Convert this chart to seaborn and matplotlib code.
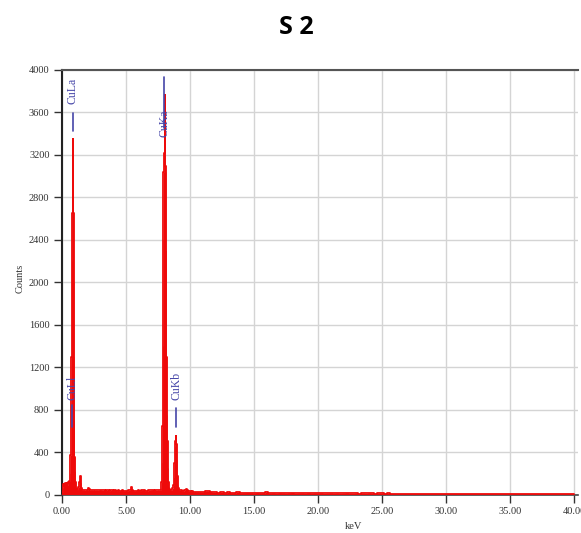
import numpy as np
import pandas as pd
import seaborn as sns
import matplotlib
matplotlib.use("Agg")
import matplotlib.pyplot as plt
from matplotlib.ticker import FormatStrFormatter

# --- EDS spectrum (energy in keV, counts per channel) ---
low_kev = [0.00, 0.04, 0.08, 0.12, 0.16, 0.20, 0.24, 0.28, 0.32, 0.36,
           0.40, 0.44, 0.48, 0.52, 0.56, 0.60, 0.64, 0.68, 0.70, 0.72,
           0.74, 0.76, 0.78, 0.80, 0.82, 0.84, 0.86, 0.88, 0.90, 0.92,
           0.94, 0.96, 0.99, 1.02, 1.06, 1.10, 1.15, 1.20, 1.25, 1.30,
           1.36, 1.40, 1.44, 1.48, 1.52, 1.56, 1.60, 1.70, 1.80, 1.90,
           2.00, 2.05, 2.10, 2.20]
low_counts = [0, 25, 60, 95, 80, 100, 90, 105, 85, 95,
              110, 90, 100, 120, 105, 130, 200, 370, 380, 640,
              1300, 2200, 2650, 2650, 2650, 2650, 3350, 2650, 2650, 2000,
              1300, 700, 350, 220, 120, 70, 55, 45, 50, 70,
              120, 165, 170, 110, 60, 45, 42, 44, 38, 46,
              44, 58, 50, 40]

# background between the Cu L and Cu K lines, 0.1 keV channels
mid_kev = np.linspace(2.3, 7.6, 54)
mid_counts = [42, 40, 44, 39, 41, 38, 42, 46, 40, 38,
              41, 37, 39, 42, 36, 38, 40, 37, 45, 39,
              36, 38, 35, 37, 40, 36, 34, 37, 35, 38,
              42, 66, 44, 36, 34, 37, 35, 38, 36, 40,
              46, 38, 35, 37, 36, 40, 38, 45, 39, 37,
              40, 38, 42, 40]

cuk_kev = [7.70, 7.75, 7.79, 7.82, 7.85, 7.88, 7.91, 7.94, 7.97, 8.00,
           8.02, 8.04, 8.06, 8.08, 8.11, 8.14, 8.17, 8.20, 8.23, 8.27,
           8.31, 8.36, 8.42, 8.50, 8.60, 8.66, 8.70, 8.74, 8.78, 8.82,
           8.85, 8.88, 8.90, 8.92, 8.95, 8.98, 9.02, 9.06, 9.10, 9.15]
cuk_counts = [44, 60, 120, 300, 650, 1400, 2400, 3040, 3100, 3220,
              3220, 3760, 3200, 3100, 3040, 2300, 1300, 750, 500, 250,
              120, 70, 50, 42, 45, 60, 90, 160, 300, 450,
              500, 520, 555, 500, 480, 330, 170, 90, 60, 45]

post_kev = np.linspace(9.2, 12.0, 29)
post_counts = [42, 38, 36, 35, 38, 55, 40, 33, 30, 28,
               30, 26, 28, 25, 27, 24, 26, 23, 25, 28,
               30, 32, 31, 30, 28, 24, 22, 21, 20]

tail_kev = np.linspace(12.25, 26.0, 56)
tail_counts = [18, 20, 16, 19, 15, 17, 21, 14, 16, 18,
               15, 13, 17, 14, 16, 19, 13, 15, 12, 16,
               14, 12, 15, 18, 11, 13, 14, 12, 16, 11,
               13, 12, 15, 10, 12, 14, 11, 13, 10, 12,
               15, 11, 10, 13, 9, 12, 10, 14, 11, 9,
               12, 10, 8, 11, 9, 7]

far_kev = np.linspace(26.5, 40.0, 28)
far_counts = [6, 5, 7, 5, 4, 6, 5, 4, 5, 8,
              4, 5, 4, 3, 5, 4, 4, 3, 5, 4,
              3, 4, 3, 4, 3, 3, 4, 3]

# --- line markers: label, energy, marker span, label centre ---
line_names = ["CuLa", "CuLl", "CuKa", "CuKb"]
line_kev = [0.83, 0.80, 8.00, 8.92]
marker_lo = [3425, 632, 3450, 632]
marker_hi = [3594, 840, 3934, 811]
label_y = [3800, 1000, 3500, 1020]

x_ticks = [0, 5, 10, 15, 20, 25, 30, 35, 40]
y_ticks = list(range(0, 4001, 400))

spectrum = pd.DataFrame({
    "energy": np.concatenate([low_kev, mid_kev, cuk_kev, post_kev, tail_kev, far_kev]),
    "counts": np.concatenate([low_counts, mid_counts, cuk_counts, post_counts,
                              tail_counts, far_counts]),
})

sns.set_style("whitegrid", {"grid.color": "#d4d4d4", "axes.edgecolor": "#333333"})
plt.rcParams["font.family"] = ["Liberation Serif", "DejaVu Serif"]

W, H = 581, 533
fig = plt.figure(figsize=(W / 100, H / 100), dpi=100)
ax = fig.add_axes([62 / W, 38.5 / H, (578 - 62) / W, (494.5 - 70) / H])

red = "#ee0a0a"
ax.fill_between(spectrum["energy"], spectrum["counts"], step="mid",
                color=red, linewidth=0, zorder=3)
sns.lineplot(data=spectrum, x="energy", y="counts", ax=ax, color=red,
             drawstyle="steps-mid", linewidth=1.3, estimator=None, zorder=4)

blue = "#4646a8"
for name, e, lo, hi, ly in zip(line_names, line_kev, marker_lo, marker_hi, label_y):
    ax.plot([e, e], [lo, hi], color=blue, linewidth=1.2, zorder=5)
    ax.text(e, ly, name, rotation=90, ha="center", va="center",
            fontsize=8.5, color=blue, zorder=6)

ax.set_xlim(0, 40.3)
ax.set_ylim(0, 4000)
ax.set_xticks(x_ticks)
ax.set_yticks(y_ticks)
ax.xaxis.set_major_formatter(FormatStrFormatter("%.2f"))
ax.grid(True, color="#d4d4d4", linewidth=1.0)
ax.set_axisbelow(True)

ax.tick_params(axis="both", which="major", bottom=True, left=True,
               direction="out", length=6, width=1.0, color="#333333",
               labelsize=7.5, labelcolor="#333333", pad=3)

for side in ["left", "bottom", "top"]:
    ax.spines[side].set_visible(True)
ax.spines["left"].set_color("#222222")
ax.spines["left"].set_linewidth(1.5)
ax.spines["bottom"].set_color("#444444")
ax.spines["bottom"].set_linewidth(1.2)
ax.spines["top"].set_color("#555555")
ax.spines["top"].set_linewidth(1.5)
ax.spines["right"].set_visible(False)

ax.set_xlabel("keV", fontsize=7.5, color="#333333")
ax.set_ylabel("Counts", fontsize=7.5, color="#333333")
ax.xaxis.set_label_coords(0.564, -0.065)
ax.yaxis.set_label_coords(-0.072, 0.51)

fig.text(296 / W, 1 - 27 / H, "S 2", ha="center", va="center", color="black",
         fontsize=18, fontweight="bold", family="Open Sans")

fig.savefig("out.png", dpi=100, facecolor="white")
